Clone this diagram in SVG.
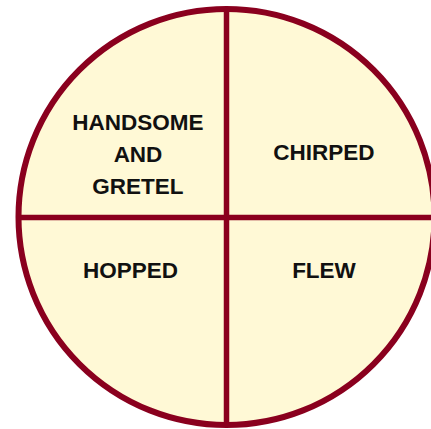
<svg xmlns="http://www.w3.org/2000/svg" width="431" height="429" viewBox="0 0 431 429">
<style>
.line{stroke:#8a001e;stroke-width:5.5;fill:none}
.disc{stroke:#8a001e;stroke-width:6;fill:#fff9d6}
.lbl{font-family:"Liberation Sans",Arial,sans-serif;font-weight:bold;font-size:22.5px;fill:#111;text-anchor:middle}
</style>
<g id="circle"><circle class="disc" cx="226.5" cy="217" r="208"/></g>
<g id="connectors">
<line class="line" x1="226.5" y1="9" x2="226.5" y2="425"/>
<line class="line" x1="17" y1="217.5" x2="431" y2="217.5"/>
</g>
<g id="q1"><text class="lbl" x="138" y="129.5">HANDSOME</text><text class="lbl" x="138" y="162">AND</text><text class="lbl" x="138" y="194">GRETEL</text></g>
<g id="q2"><text class="lbl" x="324" y="160">CHIRPED</text></g>
<g id="q3"><text class="lbl" x="130.5" y="278">HOPPED</text></g>
<g id="q4"><text class="lbl" x="324" y="278">FLEW</text></g>
</svg>
